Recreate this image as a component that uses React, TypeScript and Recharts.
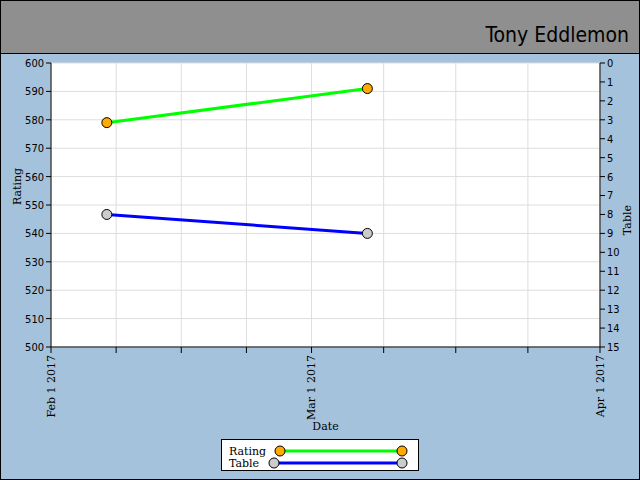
import { LineChart, Line, XAxis, YAxis, CartesianGrid } from 'recharts';

// Values
const dates = ['2017-02-07', '2017-03-07'];
const ratingValues = [579, 591];
const tableValues = [8, 9];
const monthStarts = ['2017-02-01', '2017-03-01', '2017-04-01'];
const ratingTicks = [500, 510, 520, 530, 540, 550, 560, 570, 580, 590, 600];
const tableTicks = [0, 1, 2, 3, 4, 5, 6, 7, 8, 9, 10, 11, 12, 13, 14, 15];

const MONTHS = ['Jan', 'Feb', 'Mar', 'Apr', 'May', 'Jun', 'Jul', 'Aug', 'Sep', 'Oct', 'Nov', 'Dec'];
const toTs = (s: string) => Date.parse(s + 'T00:00:00Z');

const data = dates.map((d, i) => ({ date: toTs(d), rating: ratingValues[i], table: tableValues[i] }));

// month starts plus three minor ticks inside each month
const monthTs = monthStarts.map(toTs);
const xTicks: number[] = [];
monthTs.forEach((t, i) => {
    xTicks.push(t);
    const next = monthTs[i + 1];
    if (next !== undefined) {
        for (let k = 1; k < 4; k++) xTicks.push(t + ((next - t) * k) / 4);
    }
});

const BG = '#a5c2dc';
const serif = '"DejaVu Serif", serif';

const DateTick = (props: any) => {
    const { x, y, payload } = props;
    if (!monthTs.includes(payload.value)) return null;
    const d = new Date(payload.value);
    const label = `${MONTHS[d.getUTCMonth()]} ${d.getUTCDate()} ${d.getUTCFullYear()}`;
    return (
        <text
            transform={`translate(${x},${y}) rotate(-90)`}
            textAnchor="end"
            dominantBaseline="central"
            fontFamily={serif}
            fontSize={11}
            fill="#000"
        >
            {label}
        </text>
    );
};

const Marker = ({ cx, cy, fill }: { cx: number; cy: number; fill: string }) => (
    <circle cx={cx} cy={cy} r={5} fill={fill} stroke="#000" strokeWidth={1} />
);

export default function App() {
    return (
        <div
            style={{
                position: 'absolute',
                top: 0,
                left: 0,
                width: 640,
                height: 480,
                background: BG,
                border: '1px solid #000',
                boxSizing: 'border-box',
                overflow: 'hidden',
            }}
        >
            <div
                style={{
                    position: 'absolute',
                    top: 0,
                    left: 0,
                    width: 638,
                    height: 52,
                    background: '#8f8f8f',
                    borderBottom: '1px solid #000',
                }}
            >
                <span
                    style={{
                        position: 'absolute',
                        right: 10,
                        top: 22,
                        fontFamily: '"DejaVu Sans ExtraLight", "DejaVu Sans Condensed", sans-serif',
                        fontWeight: 200,
                        fontSize: 21,
                        color: '#000',
                    }}
                >
                    Tony Eddlemon
                </span>
            </div>
            <div style={{ position: 'absolute', top: -1, left: -1 }}>
                <LineChart width={640} height={480} data={data} margin={{ top: 63, right: 0, bottom: 0, left: 0 }}>
                    <CartesianGrid stroke="#dddddd" fill="#fff" yAxisId="rating" ticks={xTicks} />
                    <XAxis
                        dataKey="date"
                        type="number"
                        scale="time"
                        domain={[monthTs[0], monthTs[monthTs.length - 1]]}
                        ticks={xTicks}
                        tick={<DateTick />}
                        interval={0}
                        height={133}
                        stroke="#000"
                        tickSize={6}
                        tickMargin={2}
                        label={{ value: 'Date', position: 'insideBottom', offset: 50, fontFamily: serif, fontSize: 11, fill: '#000' }}
                    />
                    <YAxis
                        yAxisId="rating"
                        orientation="left"
                        width={51}
                        domain={[500, 600]}
                        ticks={ratingTicks}
                        interval={0}
                        stroke="#000"
                        tickSize={5}
                        tickMargin={2}
                        tick={{ fontFamily: '"DejaVu Sans Condensed", sans-serif', fontSize: 11, fill: '#000' }}
                        label={{ value: 'Rating', angle: -90, position: 'insideLeft', offset: 17, fontFamily: serif, fontSize: 11, fill: '#000' }}
                    />
                    <YAxis
                        yAxisId="table"
                        orientation="right"
                        width={40}
                        domain={[0, 15]}
                        reversed
                        ticks={tableTicks}
                        interval={0}
                        stroke="#000"
                        tickSize={5}
                        tickMargin={2}
                        tick={{ fontFamily: '"DejaVu Sans Condensed", sans-serif', fontSize: 11, fill: '#000' }}
                        label={{ value: 'Table', angle: -90, position: 'insideRight', offset: 13, fontFamily: serif, fontSize: 11, fill: '#000' }}
                    />
                    <Line
                        yAxisId="rating"
                        dataKey="rating"
                        stroke="#00ff00"
                        strokeWidth={3}
                        dot={(p: any) => <Marker key={p.index} cx={p.cx} cy={p.cy} fill="#ffaa00" />}
                        isAnimationActive={false}
                    />
                    <Line
                        yAxisId="table"
                        dataKey="table"
                        stroke="#0000ff"
                        strokeWidth={3}
                        dot={(p: any) => <Marker key={p.index} cx={p.cx} cy={p.cy} fill="#cccccc" />}
                        isAnimationActive={false}
                    />
                </LineChart>
            </div>
            <div
                style={{
                    position: 'absolute',
                    left: 220,
                    top: 438,
                    width: 196,
                    height: 30,
                    background: '#fff',
                    border: '1px solid #000',
                }}
            >
                <svg width={196} height={30} style={{ position: 'absolute', left: 0, top: 0 }}>
                    <text x={7} y={15} fontFamily={serif} fontSize={11} fill="#000">Rating</text>
                    <text x={7} y={27} fontFamily={serif} fontSize={11} fill="#000">Table</text>
                    <line x1={58} y1={11} x2={180} y2={11} stroke="#00ff00" strokeWidth={3} />
                    <circle cx={58} cy={11} r={5} fill="#ffaa00" stroke="#000" />
                    <circle cx={180} cy={11} r={5} fill="#ffaa00" stroke="#000" />
                    <line x1={52} y1={23} x2={180} y2={23} stroke="#0000ff" strokeWidth={3} />
                    <circle cx={52} cy={23} r={5} fill="#cccccc" stroke="#000" />
                    <circle cx={180} cy={23} r={5} fill="#cccccc" stroke="#000" />
                </svg>
            </div>
        </div>
    );
}
